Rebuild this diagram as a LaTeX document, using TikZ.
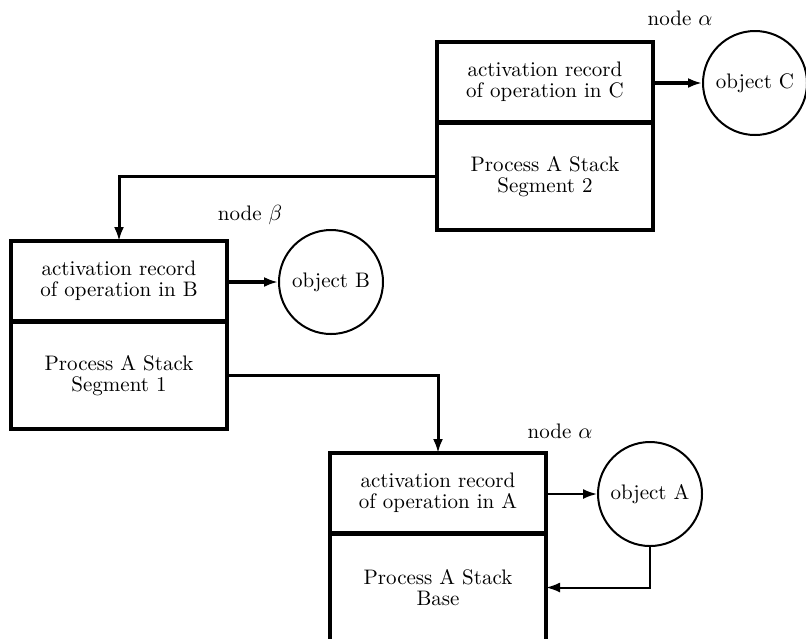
\documentclass[tikz,border=0pt]{standalone}
\usepackage{amsmath}
\usetikzlibrary{arrows.meta}
\usetikzlibrary{positioning}

\begin{document}
\begin{tikzpicture}[x=0.5pt, y=-0.5pt,
    every node/.style={font=\fontsize{10.5}{10.5}\selectfont, align=center},
    recbox/.style={draw, line width=2pt, minimum width=108pt, minimum height=40pt,
      inner sep=0pt, outer sep=0pt},
    stackbox/.style={recbox, minimum height=53.5pt},
    objcirc/.style={draw, circle, line width=1pt, minimum size=52pt, inner sep=0pt},
    ptr/.style={line width=2pt, -{Latex[length=7pt,width=5pt]}},
    link/.style={line width=1.5pt, -{Latex[length=7pt,width=5pt]}}]
    \clip (0,0) rectangle (806,638);
    % segment 2
    \node[recbox] at (545, 82) (actC) {activation record\\of operation in C};
    \node[stackbox, below=0.5pt of actC] (stkC) {Process A Stack\\Segment 2};
    \node[objcirc] at (755, 83) (objC) {object C};
    \node at (680, 18) (lblC) {node $\alpha$};
    \draw[ptr] (actC.east |- objC) -- (objC);
    % segment 1
    \node[recbox] at (119, 281) (actB) {activation record\\of operation in B};
    \node[stackbox, below=0.5pt of actB] (stkB) {Process A Stack\\Segment 1};
    \node[objcirc] at (331, 282) (objB) {object B};
    \node at (250, 215) (lblB) {node $\beta$};
    \draw[ptr] (actB.east |- objB) -- (objB);
    % base
    \node[recbox] at (438, 493) (actA) {activation record\\of operation in A};
    \node[stackbox, below=0.5pt of actA] (stkA) {Process A Stack\\Base};
    \node[objcirc] at (650, 494) (objA) {object A};
    \node at (560, 431) (lblA) {node $\alpha$};
    \draw[ptr, line width=1pt] (actA.east |- objA) -- (objA);
    \draw[ptr, line width=1pt] (objA.south) |- (stkA.east);
    % links between segments
    \draw[link] (stkC.west) -| (actB.north);
    \draw[link] (stkB.east) -| (actA.north);
\end{tikzpicture}
\end{document}
